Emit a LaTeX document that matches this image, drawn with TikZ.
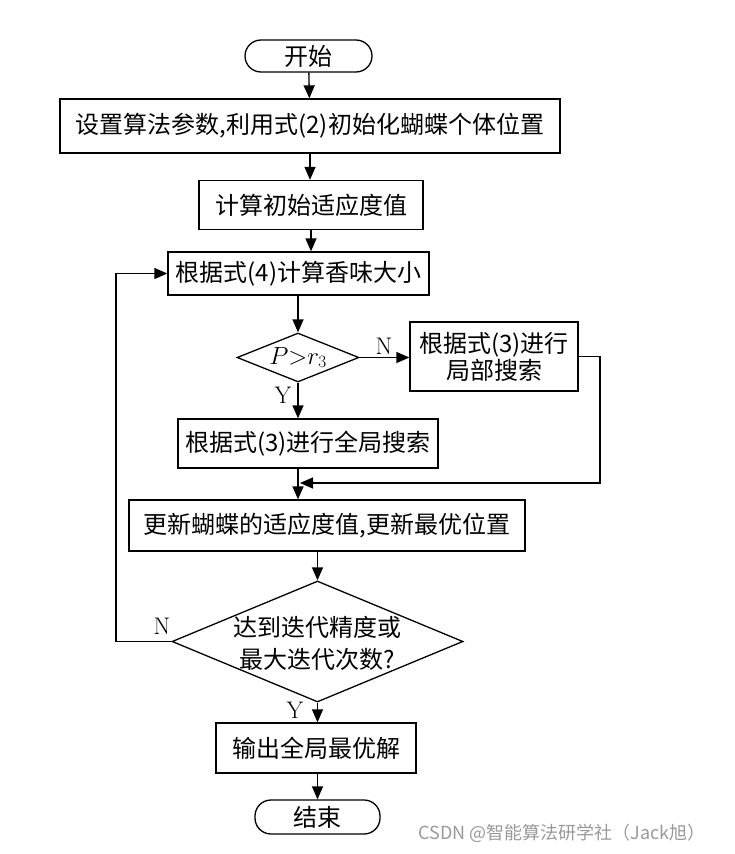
\documentclass[tikz,border=0pt]{standalone}
\usepackage{fontspec}
\newfontfamily\cjk{Noto Sans CJK SC}
\usetikzlibrary{shapes, arrows.meta, positioning}
\tikzset{
    box/.style ={rectangle, draw, line width=1.3pt, inner sep=0pt, align=center, font=\cjk\fontsize{24}{27}\selectfont}, % plain process step
    term/.style ={box, rounded corners=16pt}, % start / end
    decision/.style ={diamond, draw, line width=1.3pt, inner sep=0pt}, % the diamond is sized by minimum width / height only
    dtext/.style ={inner sep=0pt, align=center, font=\cjk\fontsize{24}{32}\selectfont},
    arr/.style ={line width=1.3pt, -{Triangle[length=13pt, width=11pt]}},
    lbl/.style ={inner sep=0pt, font=\fontsize{24}{24}\selectfont}
}
\begin{document}
\begin{tikzpicture}
            [x=1pt, y=-1pt]
            \useasboundingbox (0,0) rectangle (734,854);
            % main column
            \node [term, minimum width=127, minimum height=32] (start) at (308.5,56) {开始};
            \node [box, minimum width=500, minimum height=54] (init) at (310,126) {设置算法参数,利用式(2)初始化蝴蝶个体位置};
            \node [box, minimum width=224, minimum height=49] (fitini) at (311,205) {计算初始适应度值};
            \node [box, minimum width=261, minimum height=43] (scent) at (298.5,273.5) {根据式(4)计算香味大小};
            \node [decision, minimum width=122, minimum height=49] (judge) at (298,357.5) {};
            \node [dtext, font=\fontsize{24}{26}\selectfont] (judgetxt) at (298,357.5) {$P{>}r_{3}$};
            \node [box, minimum width=168, minimum height=69] (lsearch) at (494,356.5) {根据式(3)进行\\局部搜索};
            \node [box, minimum width=260, minimum height=49] (gsearch) at (308,443.5) {根据式(3)进行全局搜索};
            \node [box, minimum width=396, minimum height=51] (update) at (327,525.5) {更新蝴蝶的适应度值,更新最优位置};
            \node [decision, minimum width=291, minimum height=121] (check) at (317.5,641.5) {};
            \node [dtext] (checktxt) at (317.5,643) {达到迭代精度或\\最大迭代次数?};
            \node [box, minimum width=200, minimum height=50] (output) at (316,748) {输出全局最优解};
            \node [term, minimum width=125, minimum height=34] (stop) at (317.5,817) {结束};
            % turning points
            \coordinate (merge) at (300,483);
            \coordinate (rturn) at (600,483);
            \coordinate (lturn) at (116,641.5);
            % connectors
            \draw [arr] (start) -- (init);
            \draw [arr] (init) -- (init |- fitini.north);
            \draw [arr] (fitini.south) -- (fitini.south |- scent.north);
            \draw [arr] (scent.south -| judge) -- (judge.north);
            \draw [arr] (judge.east) -- (lsearch.west |- judge.east);
            \draw [arr] (judge.south) -- (judge.south |- gsearch.north);
            \draw [arr] (judge |- gsearch.south) -- (judge |- update.north);
            \draw [arr] (lsearch.east) -| (rturn) -- (merge);
            \draw [arr] (update.south -| check) -- (check.north);
            \draw [arr] (check.west) -- (lturn) |- (scent.west);
            \draw [arr] (check.south) -- (check.south |- output.north);
            \draw [arr] (output.south -| stop) -- (stop.north);
            % branch labels
            \node [lbl] (n1) at (384,346) {N};
            \node [lbl] (y1) at (283,395) {Y};
            \node [lbl] (n2) at (162,626) {N};
            \node [lbl] (y2) at (295,710) {Y};
            \node [inner sep=0pt, text=black!40, font=\cjk\fontsize{18}{18}\selectfont] (mark) at (562,833) {CSDN @智能算法研学社（Jack旭）};
        \end{tikzpicture}
\end{document}
